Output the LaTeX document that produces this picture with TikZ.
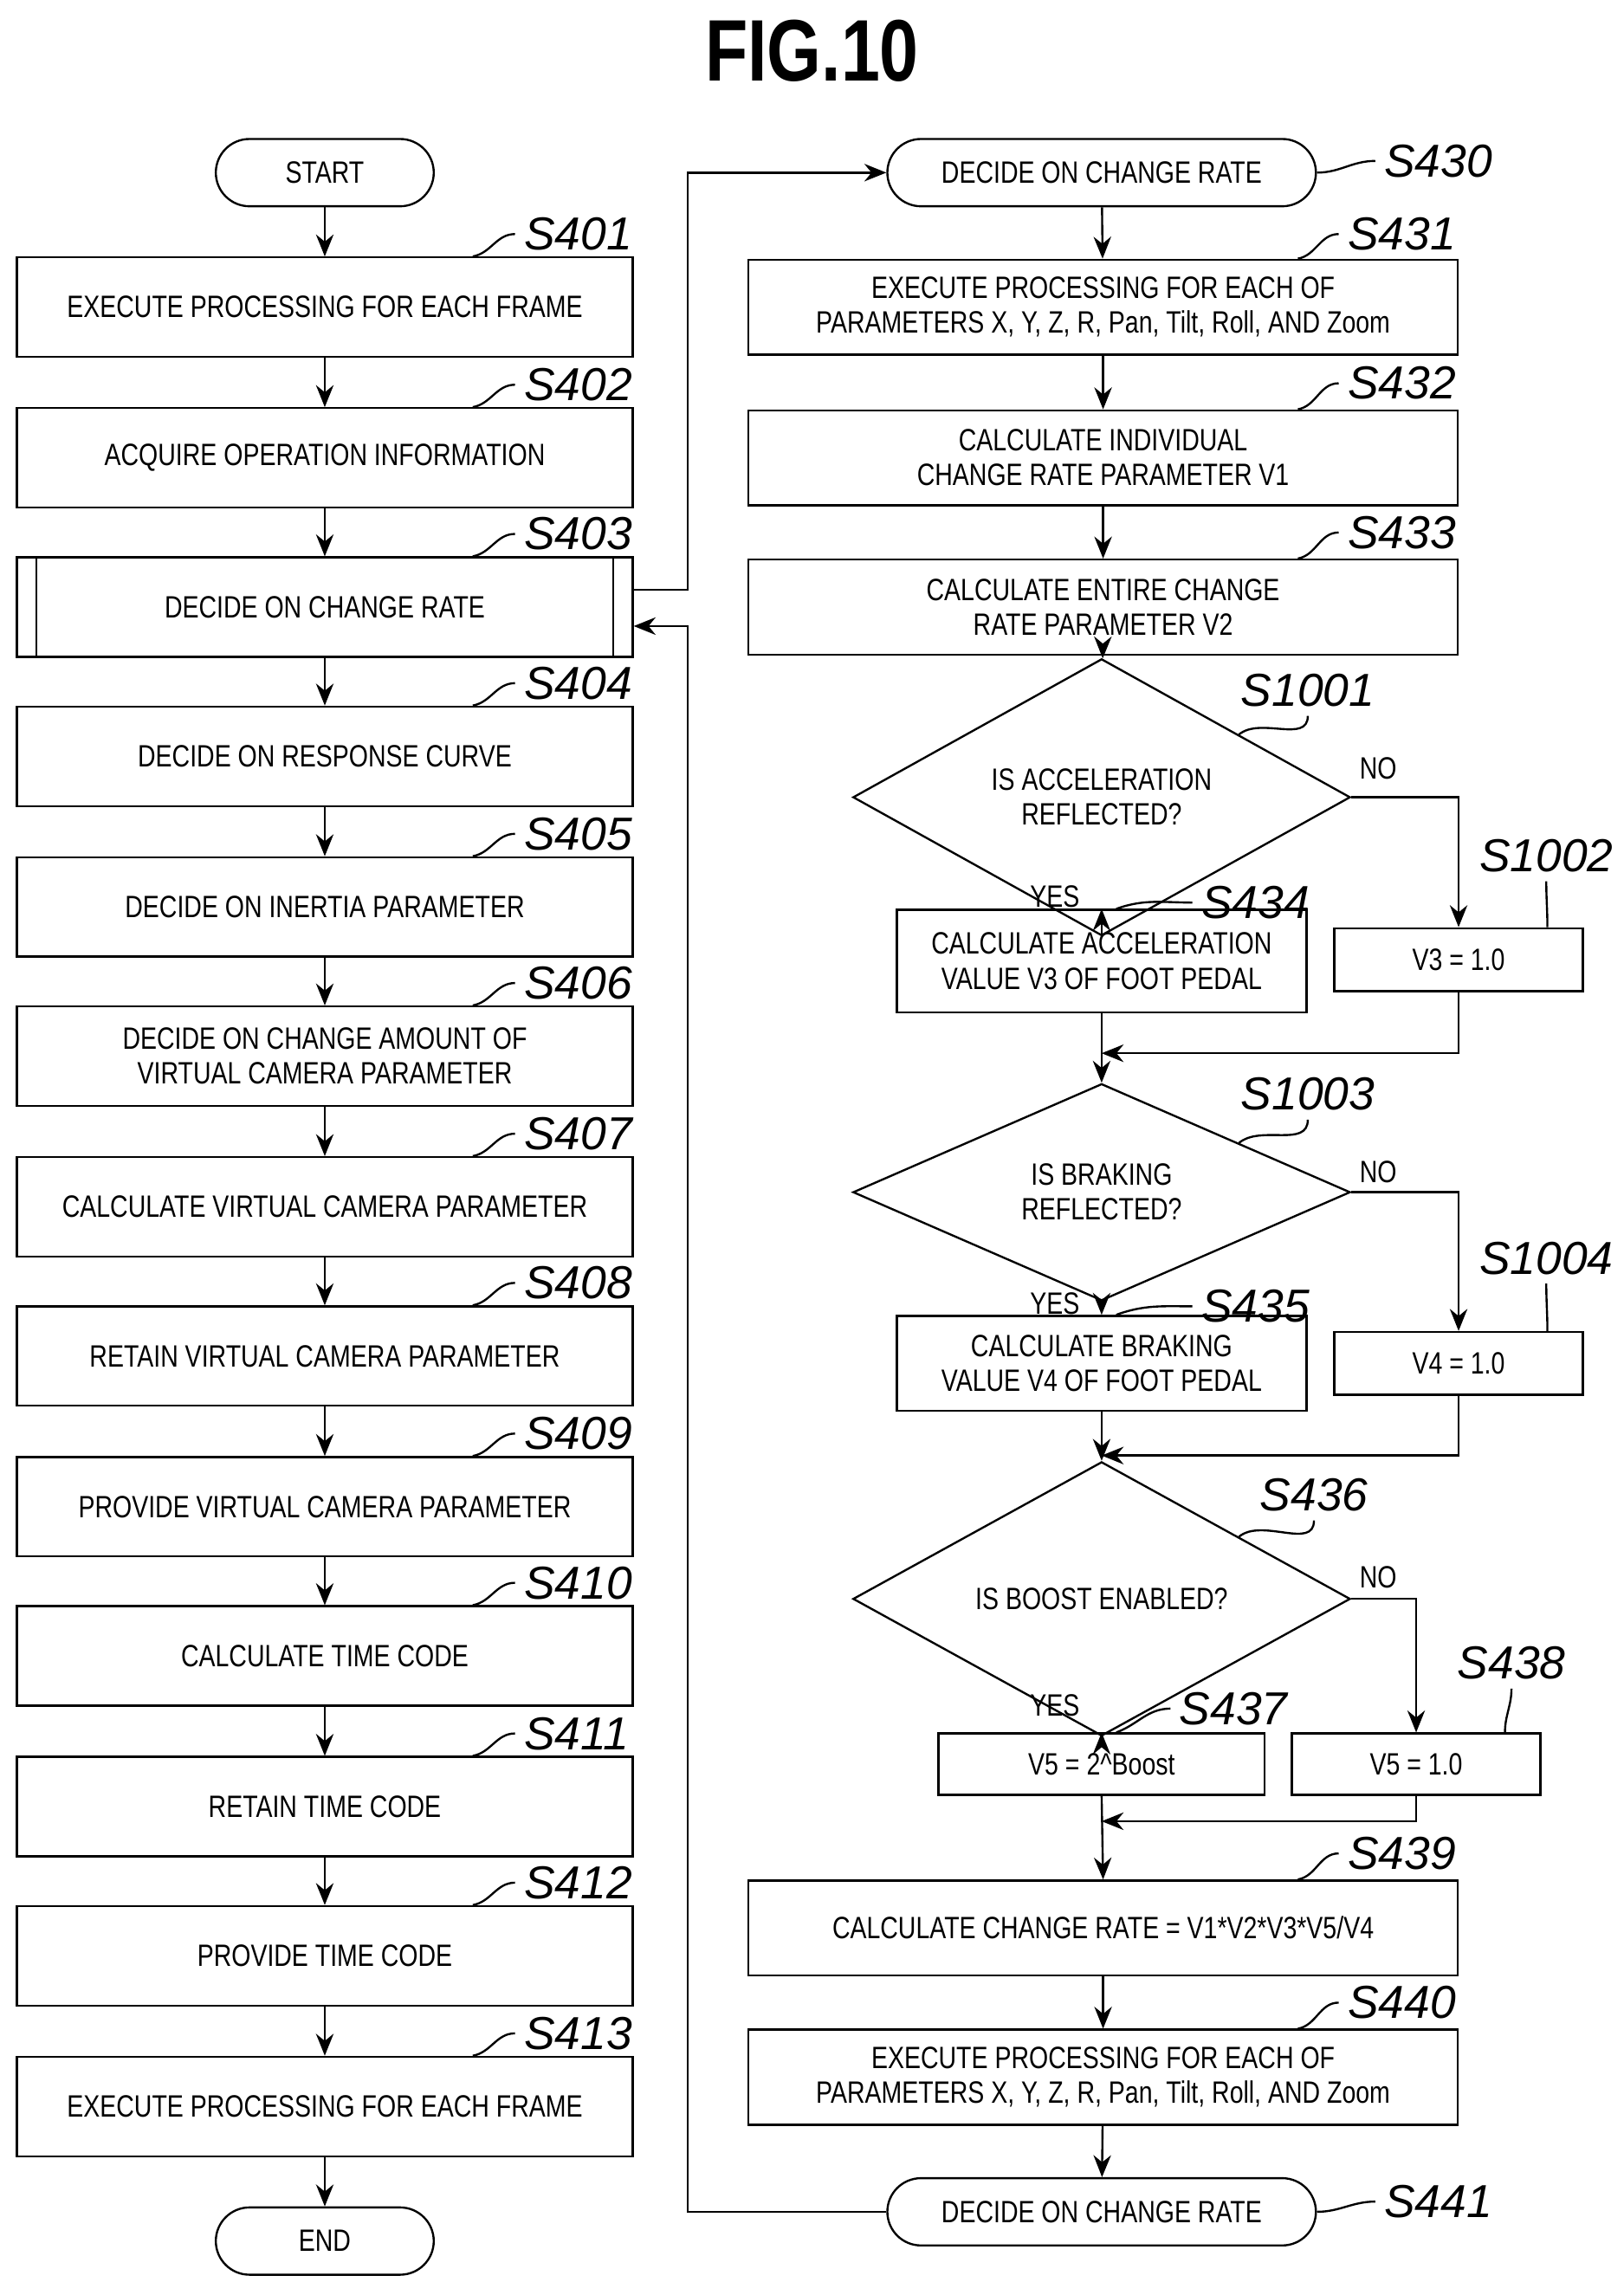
\documentclass[tikz,border=0pt]{standalone}
\usepackage{fontspec}
\setmainfont[FakeStretch=0.8]{Liberation Sans}
\newfontfamily\lblfont{Liberation Sans}
\usetikzlibrary{arrows.meta,positioning,calc,shapes.geometric}

\begin{document}
\begin{tikzpicture}[x=0.02cm,y=-0.02cm,
  box/.style={rectangle, draw, thick, minimum width=8.42cm, minimum height=1.36cm,
              font=\fontsize{12}{13.5}\selectfont, align=center, inner sep=1pt},
  term/.style={rectangle, draw, thick, rounded corners=0.46cm, minimum width=2.98cm,
               minimum height=0.92cm, font=\fontsize{12}{13.5}\selectfont},
  dec/.style={diamond, draw, thick, minimum width=6.8cm, minimum height=2.32cm,
              inner sep=0pt, font=\fontsize{12}{13.5}\selectfont, align=center},
  sbox/.style={rectangle, draw, thick, font=\fontsize{12}{13.5}\selectfont, align=center},
  steplbl/.style={font=\lblfont\itshape\fontsize{18}{20}\selectfont, anchor=west},
  yn/.style={font=\fontsize{12}{13.5}\selectfont},
  arr/.style={-{Stealth[length=3mm,width=2.4mm]}, thick},
  lead/.style={thick}
]
\useasboundingbox (0,0) rectangle (1110,1560);
\node[font=\bfseries\fontsize{34}{36}\selectfont] (title) at (555,35) {FIG.10};

% left column
\node[term] (start) at (222,118) {START};
\foreach \n/\y/\t in {
  401/210/{EXECUTE PROCESSING FOR EACH FRAME},
  402/313/{ACQUIRE OPERATION INFORMATION},
  403/415/{DECIDE ON CHANGE RATE},
  404/517/{DECIDE ON RESPONSE CURVE},
  405/620/{DECIDE ON INERTIA PARAMETER},
  406/722/{DECIDE ON CHANGE AMOUNT OF\\VIRTUAL CAMERA PARAMETER},
  407/825/{CALCULATE VIRTUAL CAMERA PARAMETER},
  408/927/{RETAIN VIRTUAL CAMERA PARAMETER},
  409/1030/{PROVIDE VIRTUAL CAMERA PARAMETER},
  410/1132/{CALCULATE TIME CODE},
  411/1235/{RETAIN TIME CODE},
  412/1337/{PROVIDE TIME CODE},
  413/1440/{EXECUTE PROCESSING FOR EACH FRAME}}{
  \node[box] (b\n) at (222,\y) {\t};
  \node[steplbl] (l\n) at (352,\y-50) {S\n};
  \draw[lead] ($(b\n.north east)+(-110,0)$) to[out=10,in=180] (l\n.west);
}
\draw[thick] ($(b403.north west)+(14,0)$) -- ($(b403.south west)+(14,0)$);
\draw[thick] ($(b403.north east)+(-14,0)$) -- ($(b403.south east)+(-14,0)$);
\node[term] (end) at (222,1532) {END};
\draw[arr] (start) -- (b401);
\foreach \a/\b in {401/402,402/403,403/404,404/405,405/406,406/407,407/408,
                   408/409,409/410,410/411,411/412,412/413}
  \draw[arr] (b\a) -- (b\b);
\draw[arr] (b413) -- (end);

% right column
\node[term, minimum width=5.86cm] (s430) at (753,118) {DECIDE ON CHANGE RATE};
\node[steplbl] (l430) at (940,110) {S430};
\draw[lead] (s430.east) to[out=0,in=180] (l430.west);
\node[box, minimum width=9.7cm, minimum height=1.3cm] (s431) at (754,210)
  {EXECUTE PROCESSING FOR EACH OF\\PARAMETERS X, Y, Z, R, Pan, Tilt, Roll, AND Zoom};
\node[box, minimum width=9.7cm, minimum height=1.3cm] (s432) at (754,313)
  {CALCULATE INDIVIDUAL\\CHANGE RATE PARAMETER V1};
\node[box, minimum width=9.7cm, minimum height=1.3cm] (s433) at (754,415)
  {CALCULATE ENTIRE CHANGE\\RATE PARAMETER V2};
\node[steplbl] (l431) at (915,160) {S431};
\node[steplbl] (l432) at (915,262) {S432};
\node[steplbl] (l433) at (915,364) {S433};
\foreach \n in {431,432,433}
  \draw[lead] ($(s\n.north east)+(-110,0)$) to[out=10,in=180] (l\n.west);

\node[dec] (d1) at (753,545) {IS ACCELERATION\\REFLECTED?};
\node[steplbl] (ld1) at (842,472) {S1001};
\draw[lead] ($(d1.north)!0.55!(d1.east)$) to[out=40,in=270] (ld1.south);
\node[sbox, minimum width=5.6cm, minimum height=1.4cm] (s434) at (753,657)
  {CALCULATE ACCELERATION\\VALUE V3 OF FOOT PEDAL};
\node[steplbl] (l434) at (815,617) {S434};
\draw[lead] ($(s434.north)+(10,0)$) to[out=20,in=180] (l434.west);
\node[sbox, minimum width=3.4cm, minimum height=0.86cm] (v3) at (997,656) {V3 = 1.0};
\node[steplbl] (l1002) at (1005,585) {S1002};
\draw[lead] ($(v3.north east)+(-25,0)$) to[out=90,in=270] (l1002.south);
\node[yn] (y1) at (721,613) {YES};
\node[yn] (n1) at (942,525) {NO};
\coordinate (m1) at (753,720);
\draw[arr] (d1.south) -- (s434.north);
\draw[arr] (d1.east) -| (v3.north);
\draw[arr] (v3.south) |- (m1);

\node[dec] (d2) at (753,815) {IS BRAKING\\REFLECTED?};
\draw[arr] (s434.south) -- (d2.north);
\node[steplbl] (ld2) at (842,748) {S1003};
\draw[lead] ($(d2.north)!0.55!(d2.east)$) to[out=40,in=270] (ld2.south);
\node[sbox, minimum width=5.6cm, minimum height=1.3cm] (s435) at (753,932)
  {CALCULATE BRAKING\\VALUE V4 OF FOOT PEDAL};
\node[steplbl] (l435) at (815,893) {S435};
\draw[lead] ($(s435.north)+(10,0)$) to[out=20,in=180] (l435.west);
\node[sbox, minimum width=3.4cm, minimum height=0.86cm] (v4) at (997,932) {V4 = 1.0};
\node[steplbl] (l1004) at (1005,860) {S1004};
\draw[lead] ($(v4.north east)+(-25,0)$) to[out=90,in=270] (l1004.south);
\node[yn] (y2) at (721,891) {YES};
\node[yn] (n2) at (942,801) {NO};
\coordinate (m2) at (753,995);
\draw[arr] (d2.south) -- (s435.north);
\draw[arr] (d2.east) -| (v4.north);
\draw[arr] (v4.south) |- (m2);

\node[dec] (d3) at (753,1093) {IS BOOST ENABLED?};
\draw[arr] (s435.south) -- (d3.north);
\node[steplbl] (ld3) at (855,1022) {S436};
\draw[lead] ($(d3.north)!0.55!(d3.east)$) to[out=40,in=270] (ld3.south);
\node[sbox, minimum width=4.46cm, minimum height=0.84cm] (s437) at (753,1206) {V5 = 2\^{}Boost};
\node[steplbl] (l437) at (800,1168) {S437};
\draw[lead] ($(s437.north)+(10,0)$) to[out=20,in=180] (l437.west);
\node[sbox, minimum width=3.4cm, minimum height=0.84cm] (s438) at (968,1206) {V5 = 1.0};
\node[steplbl] (l438) at (990,1137) {S438};
\draw[lead] ($(s438.north east)+(-25,0)$) to[out=90,in=270] (l438.south);
\node[yn] (y3) at (721,1166) {YES};
\node[yn] (n3) at (942,1078) {NO};
\coordinate (m3) at (753,1245);
\draw[arr] (d3.south) -- (s437.north);
\draw[arr] (d3.east) -| (s438.north);
\draw[arr] (s438.south) |- (m3);

\node[box, minimum width=9.7cm, minimum height=1.3cm] (s439) at (754,1318)
  {CALCULATE CHANGE RATE = V1*V2*V3*V5/V4};
\node[box, minimum width=9.7cm, minimum height=1.3cm] (s440) at (754,1420)
  {EXECUTE PROCESSING FOR EACH OF\\PARAMETERS X, Y, Z, R, Pan, Tilt, Roll, AND Zoom};
\node[steplbl] (l439) at (915,1267) {S439};
\node[steplbl] (l440) at (915,1369) {S440};
\foreach \n in {439,440}
  \draw[lead] ($(s\n.north east)+(-110,0)$) to[out=10,in=180] (l\n.west);
\draw[arr] (s437.south) -- (s439.north);
\node[term, minimum width=5.86cm] (s441) at (753,1512) {DECIDE ON CHANGE RATE};
\node[steplbl] (l441) at (940,1505) {S441};
\draw[lead] (s441.east) to[out=0,in=180] (l441.west);

\draw[arr] (s430) -- (s431);
\draw[arr] (s431) -- (s432);
\draw[arr] (s432) -- (s433);
\draw[arr] (s433) -- (d1);
\draw[arr] (s439) -- (s440);
\draw[arr] (s440) -- (s441);

% links between columns
\coordinate (c1) at (470,403);
\coordinate (c2) at (470,428);
\draw[arr] (b403.east |- c1) -- (c1) |- (s430.west);
\draw[arr] (s441.west) -| (c2) -- (b403.east |- c2);
\end{tikzpicture}
\end{document}
